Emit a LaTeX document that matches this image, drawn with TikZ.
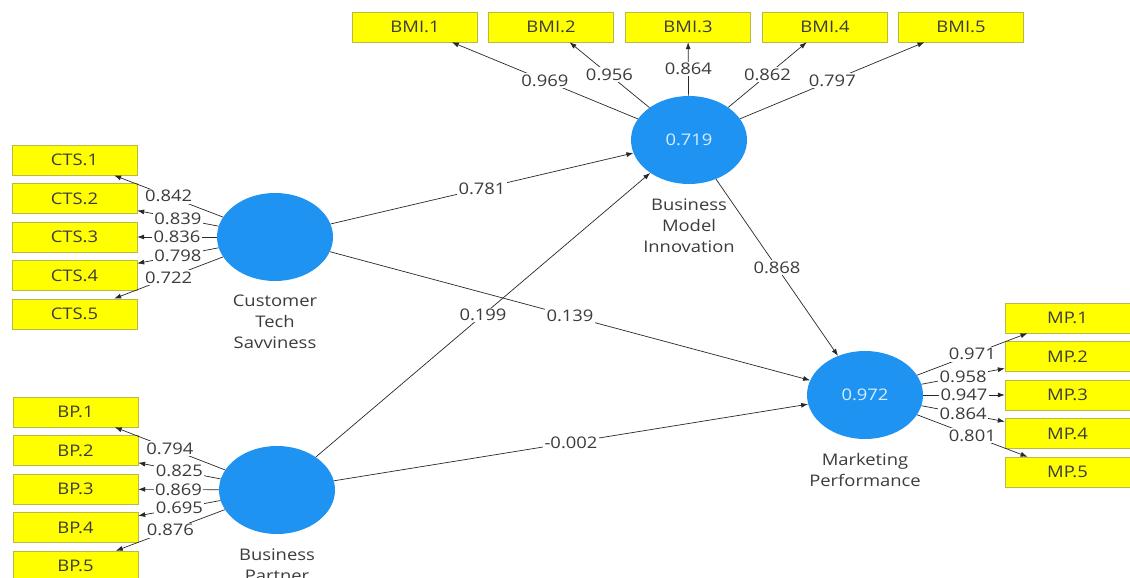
\documentclass[tikz,border=0pt]{standalone}
\usepackage{fontspec}
\setmainfont{Open Sans}[FakeStretch=1.15]
\usetikzlibrary{shapes.geometric}
\usetikzlibrary{positioning}
\usetikzlibrary{arrows.meta}
\definecolor{lvblue}{RGB}{31,147,242}
\definecolor{lvtext}{RGB}{215,238,255}
\definecolor{itemfill}{RGB}{255,255,0}
\definecolor{itemline}{RGB}{185,185,70}
\definecolor{textgray}{RGB}{60,60,60}
\definecolor{linegray}{RGB}{40,40,40}
\tikzset{x=1pt, y=1pt,
every node/.style={ % Text of all nodes
font=\fontsize{16}{21}\selectfont,
text=textgray},
latent/.style={ % Sets the properties for each construct
ellipse,
fill=lvblue,
minimum width=116pt,
minimum height=88pt,
inner sep=0pt,
text=lvtext},
item/.style={ % Sets the properties for each indicator
rectangle,
draw=itemline,
fill=itemfill,
minimum width=125pt,
minimum height=30pt,
inner sep=0pt},
caption/.style={ % Name under a construct
align=center,
inner sep=0pt},
weight/.style={ % Loadings and path coefficients
fill=white,
inner sep=1.5pt},
every edge/.style={ % Sets the properties for each connector
draw=linegray,
-{Latex[length=7pt,width=5pt]},
line width=0.7pt}}

\begin{document}
\begin{tikzpicture}
\fill[white] (0,0) rectangle (1130,578);
\useasboundingbox (0,0) rectangle (1130,578);
% constructs
\node[latent] (cts) at (275,341) {};
\node[latent] (bp) at (277,88) {};
\node[latent] (bmi) at (689,438) {0.719};
\node[latent] (mp) at (865,183) {0.972};
\node[caption, below=14pt of cts] (ctsname) {Customer\\Tech\\Savviness};
\node[caption, below=14pt of bp] (bpname) {Business\\Partner};
\node[caption, below=14pt of bmi] (bminame) {Business\\Model\\Innovation};
\node[caption, below=14pt of mp] (mpname) {Marketing\\Performance};
% indicators
\node[item] (cts1) at (74.5,417.8) {CTS.1};
\node[item] (cts2) at (74.5,379.4) {CTS.2};
\node[item] (cts3) at (74.5,341) {CTS.3};
\node[item] (cts4) at (74.5,302.6) {CTS.4};
\node[item] (cts5) at (74.5,264.2) {CTS.5};
\node[item] (bp1) at (75.5,166) {BP.1};
\node[item] (bp2) at (75.5,127.5) {BP.2};
\node[item] (bp3) at (75.5,89) {BP.3};
\node[item] (bp4) at (75.5,50.5) {BP.4};
\node[item] (bp5) at (75.5,12) {BP.5};
\node[item] (bmi1) at (415,551) {BMI.1};
\node[item] (bmi2) at (551,551) {BMI.2};
\node[item] (bmi3) at (688,551) {BMI.3};
\node[item] (bmi4) at (825,551) {BMI.4};
\node[item] (bmi5) at (961,551) {BMI.5};
\node[item] (mp1) at (1067.5,260) {MP.1};
\node[item] (mp2) at (1067.5,221.5) {MP.2};
\node[item] (mp3) at (1067.5,183) {MP.3};
\node[item] (mp4) at (1067.5,144.5) {MP.4};
\node[item] (mp5) at (1067.5,106) {MP.5};
% outer loadings
\draw (cts) edge node[weight]{0.842} (cts1)
edge node[weight]{0.839} (cts2)
edge node[weight]{0.836} (cts3)
edge node[weight]{0.798} (cts4)
edge node[weight]{0.722} (cts5)
(bp) edge node[weight]{0.794} (bp1)
edge node[weight]{0.825} (bp2)
edge node[weight]{0.869} (bp3)
edge node[weight]{0.695} (bp4)
edge node[weight]{0.876} (bp5)
(bmi) edge node[weight]{0.969} (bmi1)
edge node[weight]{0.956} (bmi2)
edge node[weight]{0.864} (bmi3)
edge node[weight]{0.862} (bmi4)
edge node[weight]{0.797} (bmi5)
(mp) edge node[weight]{0.971} (mp1)
edge node[weight]{0.958} (mp2)
edge node[weight]{0.947} (mp3)
edge node[weight]{0.864} (mp4)
edge node[weight]{0.801} (mp5);
% inner model
\draw (cts) edge node[weight]{0.781} (bmi)
edge node[weight]{0.139} (mp)
(bp) edge node[weight]{0.199} (bmi)
edge node[weight]{-0.002} (mp)
(bmi) edge node[weight]{0.868} (mp);
\end{tikzpicture}
\end{document}
